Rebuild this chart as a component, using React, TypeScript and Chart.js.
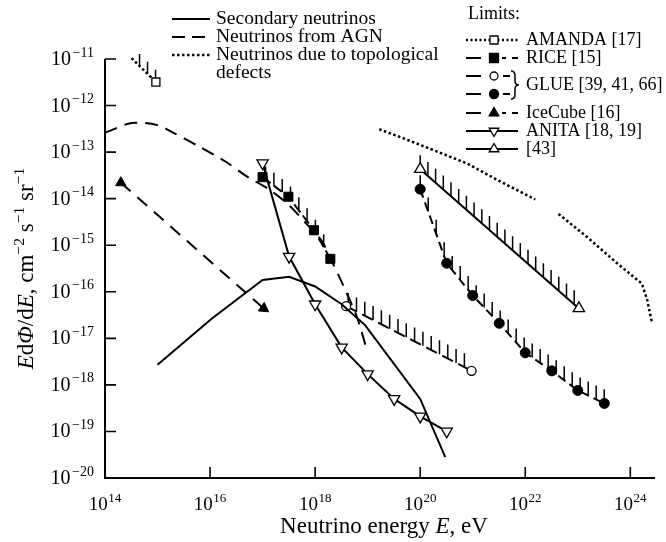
import React, { useEffect, useRef } from 'react';
import { Chart, registerables } from 'chart.js';
Chart.register(...registerables);

const FONT = "'Liberation Serif', 'Times New Roman', serif";

const xTickPowers = [14, 16, 18, 20, 22, 24];
const yTickPowers = [-11, -12, -13, -14, -15, -16, -17, -18, -19, -20];

const secondaryE = [1e15, 1.1e16, 1e17, 3.2e17, 1e18, 3.2e18, 9e18, 1e20, 3e20];
const secondaryF = [2.7e-18, 2.7e-17, 1.8e-16, 2.1e-16, 1.3e-16, 5.4e-17, 1.9e-17, 5e-19, 2.8e-20];

const agnE = [1e14, 3.2e14, 1e15, 2e15, 6.3e15, 2e16, 5e16, 1.3e17, 3.2e17, 7e17, 1.3e18, 2e18, 3.5e18, 6.3e18, 9.5e18];
const agnF = [2.6e-13, 4.2e-13, 3.8e-13, 2.6e-13, 1.3e-13, 6.2e-14, 3.0e-14, 1.6e-14, 7.2e-15, 2.8e-15, 1.3e-15, 5e-16, 1.3e-16, 2.8e-17, 6e-18];

const topoE = [1.66e19, 4.2e19, 2e20, 7.8e20, 3.2e21, 1.55e22, 2.6e22, 4.3e22, 1.5e23, 5.6e23, 1.66e24, 2.1e24, 2.6e24];
const topoF = [3.1e-13, 2.1e-13, 1.05e-13, 5.7e-14, 2.4e-14, 9.6e-15, null, 4.7e-15, 1.5e-15, 4.1e-16, 1.5e-16, 6.6e-17, 2.1e-17];

const amandaE = [3.2e14, 9.3e14];
const amandaF = [1.04e-11, 3.2e-12];

const riceE = [1e17, 3.1e17, 9.5e17, 1.95e18];
const riceF = [2.9e-14, 1.1e-14, 2.1e-15, 5.1e-16];

const glueOpenE = [3.9e18, 9.5e20];
const glueOpenF = [4.9e-17, 2e-18];

const glueFilledE = [1e20, 3.2e20, 1e21, 3.2e21, 1e22, 3.2e22, 1e23, 3.2e23];
const glueFilledF = [1.6e-14, 4.1e-16, 8.3e-17, 2.1e-17, 4.9e-18, 2e-18, 7.6e-19, 4e-19];

const icecubeE = [2e14, 1.05e17];
const icecubeF = [2.2e-14, 4.4e-17];

const anitaE = [1e17, 3.2e17, 1e18, 3.2e18, 1e19, 3.2e19, 1e20, 3.2e20];
const anitaF = [5.8e-14, 5.7e-16, 5.4e-17, 6.4e-18, 1.7e-18, 5e-19, 2.1e-19, 1e-19];

const ref43E = [1e20, 1.05e23];
const ref43F = [4.3e-14, 4.4e-17];

const modelLabels = ['Secondary neutrinos', 'Neutrinos from AGN', 'Neutrinos due to topological', 'defects'];
const limitLabels = ['AMANDA [17]', 'RICE [15]', 'GLUE [39, 41, 66]', 'IceCube [16]', 'ANITA [18, 19]', '[43]'];

function pts(xs: number[], ys: (number | null)[]) {
  return xs.map((x, i) => ({ x, y: ys[i] }));
}

const hatchSpec: Record<string, { spacing: number; len: number; offset: number }> = {
  amanda: { spacing: 8, len: 12, offset: 8 },
  rice: { spacing: 8.3, len: 13, offset: 3 },
  glueOpen: { spacing: 8.3, len: 14, offset: 2 },
  glueFilled: { spacing: 8, len: 14, offset: 0 },
  ref43: { spacing: 7.7, len: 14, offset: 0 },
};

function sup(ctx: CanvasRenderingContext2D, base: string, exp: string, x: number, y: number, align: 'center' | 'right', bs: number, es: number, gap: number) {
  ctx.font = `${bs}px ${FONT}`;
  const wb = ctx.measureText(base).width;
  ctx.font = `${es}px ${FONT}`;
  const we = ctx.measureText(exp).width;
  const total = wb + we + gap;
  const x0 = align === 'center' ? x - total / 2 : x - total;
  ctx.textAlign = 'left';
  ctx.textBaseline = 'alphabetic';
  ctx.font = `${bs}px ${FONT}`;
  ctx.fillText(base, x0, y);
  ctx.font = `${es}px ${FONT}`;
  ctx.fillText(exp, x0 + wb + gap, y - bs * 0.42);
}

type Seg = { t: string; it?: boolean; sp?: boolean };
function richText(ctx: CanvasRenderingContext2D, segs: Seg[], size: number, cx: number, y: number) {
  const font = (s: Seg) => `${s.it ? 'italic ' : ''}${s.sp ? size * 0.68 : size}px ${FONT}`;
  let total = 0;
  segs.forEach((s) => { ctx.font = font(s); total += ctx.measureText(s.t).width; });
  let x = cx - total / 2;
  ctx.textAlign = 'left';
  ctx.textBaseline = 'alphabetic';
  segs.forEach((s) => {
    ctx.font = font(s);
    ctx.fillText(s.t, x, s.sp ? y - size * 0.4 : y);
    x += ctx.measureText(s.t).width;
  });
}

function marker(ctx: CanvasRenderingContext2D, kind: string, x: number, y: number, r: number, filled: boolean) {
  ctx.save();
  ctx.beginPath();
  if (kind === 'rect') {
    ctx.rect(x - r, y - r, 2 * r, 2 * r);
  } else if (kind === 'circle') {
    ctx.arc(x, y, r, 0, Math.PI * 2);
  } else if (kind === 'tri') {
    ctx.moveTo(x, y - r);
    ctx.lineTo(x + r * 0.87, y + r * 0.5);
    ctx.lineTo(x - r * 0.87, y + r * 0.5);
    ctx.closePath();
  } else if (kind === 'triDown') {
    ctx.moveTo(x, y + r);
    ctx.lineTo(x + r * 0.87, y - r * 0.5);
    ctx.lineTo(x - r * 0.87, y - r * 0.5);
    ctx.closePath();
  }
  ctx.fillStyle = filled ? '#000' : '#fff';
  ctx.fill();
  ctx.lineWidth = 1.3;
  ctx.strokeStyle = '#000';
  ctx.stroke();
  ctx.restore();
}

const axesPlugin = {
  id: 'axesDraw',
  afterDraw(chart: any) {
    const ctx = chart.ctx as CanvasRenderingContext2D;
    const { left, right, top, bottom } = chart.chartArea;
    const xs = chart.scales.x;
    const ys = chart.scales.y;
    ctx.save();
    ctx.strokeStyle = '#000';
    ctx.fillStyle = '#000';
    ctx.lineWidth = 2;
    ctx.beginPath();
    ctx.moveTo(left, top);
    ctx.lineTo(left, bottom);
    ctx.lineTo(right, bottom);
    ctx.stroke();
    ctx.lineWidth = 1.6;
    ctx.beginPath();
    xTickPowers.forEach((p) => {
      if (p === 14) return;
      const px = xs.getPixelForValue(Math.pow(10, p));
      ctx.moveTo(px, bottom);
      ctx.lineTo(px, bottom - 11);
    });
    yTickPowers.forEach((p) => {
      if (p === -20) return;
      const py = ys.getPixelForValue(Math.pow(10, p));
      ctx.moveTo(left, py);
      ctx.lineTo(left + 11, py);
    });
    ctx.stroke();
    xTickPowers.forEach((p) => {
      const px = xs.getPixelForValue(Math.pow(10, p));
      sup(ctx, '10', String(p), px, bottom + 32, 'center', 19, 13, 0.5);
    });
    yTickPowers.forEach((p) => {
      const py = ys.getPixelForValue(Math.pow(10, p));
      sup(ctx, '10', '\u2212' + String(-p), left - 11, py + 6, 'right', 20, 14, 1.5);
    });
    richText(ctx, [{ t: 'Neutrino energy ' }, { t: 'E', it: true }, { t: ', eV' }], 23, (left + right) / 2 + 4, bottom + 55);
    ctx.save();
    ctx.translate(33, (top + bottom) / 2);
    ctx.rotate(-Math.PI / 2);
    richText(ctx, [
      { t: 'E', it: true }, { t: 'd' }, { t: '\u03A6', it: true }, { t: '/d' }, { t: 'E', it: true }, { t: ', cm' },
      { t: '\u22122', sp: true }, { t: ' s' }, { t: '\u22121', sp: true }, { t: ' sr' }, { t: '\u22121', sp: true },
    ], 23, 0, 0);
    ctx.restore();
    ctx.restore();
  },
};

const hatchPlugin = {
  id: 'hatch',
  beforeDatasetsDraw(chart: any) {
    const ctx = chart.ctx as CanvasRenderingContext2D;
    ctx.save();
    ctx.strokeStyle = '#000';
    ctx.lineWidth = 1.5;
    chart.data.datasets.forEach((ds: any, i: number) => {
      const spec = hatchSpec[ds.key];
      if (!spec) return;
      const meta = chart.getDatasetMeta(i);
      const p = meta.data.map((e: any) => ({ x: e.x, y: e.y }));
      ctx.beginPath();
      let x = p[0].x + spec.offset;
      const xEnd = p[p.length - 1].x;
      while (x <= xEnd + 0.5) {
        let k = 0;
        while (k < p.length - 2 && p[k + 1].x < x) k++;
        const a = p[k], b = p[k + 1];
        const t = b.x === a.x ? 0 : (x - a.x) / (b.x - a.x);
        const y = a.y + (b.y - a.y) * Math.max(0, Math.min(1, t));
        ctx.moveTo(x, y);
        ctx.lineTo(x, y - spec.len);
        x += spec.spacing;
      }
      ctx.stroke();
    });
    ctx.restore();
  },
};

const legendPlugin = {
  id: 'customLegend',
  afterDraw(chart: any) {
    const ctx = chart.ctx as CanvasRenderingContext2D;
    ctx.save();
    ctx.fillStyle = '#000';
    ctx.strokeStyle = '#000';
    ctx.textBaseline = 'middle';
    ctx.textAlign = 'left';
    // left legend
    ctx.font = `19.5px ${FONT}`;
    const lx0 = 172, lx1 = 210, ltx = 216;
    const lrows = [
      { y: 19, dash: [] as number[], w: 2 },
      { y: 37, dash: [13, 7], w: 2 },
      { y: 55, dash: [2.5, 2.5], w: 2.5 },
    ];
    lrows.forEach((r, i) => {
      ctx.beginPath();
      ctx.setLineDash(r.dash);
      ctx.lineWidth = r.w;
      ctx.moveTo(lx0, r.y);
      ctx.lineTo(lx1, r.y);
      ctx.stroke();
      ctx.setLineDash([]);
      ctx.fillText(modelLabels[i], ltx, r.y);
    });
    ctx.fillText(modelLabels[3], ltx, 73);

    // right legend
    ctx.font = `18px ${FONT}`;
    ctx.fillText('Limits:', 468, 14);
    const sx0 = 466, sx1 = 518, mx = 494, tx = 526;
    const seg = (y: number, a: number, b: number, w = 2) => {
      ctx.beginPath(); ctx.lineWidth = w; ctx.moveTo(a, y); ctx.lineTo(b, y); ctx.stroke();
    };
    // AMANDA
    let y = 40;
    ctx.setLineDash([2, 2.5]);
    seg(y, sx0, sx1, 2.5);
    ctx.setLineDash([]);
    marker(ctx, 'rect', mx, y, 4, false);
    ctx.fillText(limitLabels[0], tx, y);
    // RICE
    y = 58;
    seg(y, sx0, sx0 + 15); seg(y, mx + 8, mx + 12); seg(y, mx + 18, mx + 24);
    marker(ctx, 'rect', mx, y, 4.5, true);
    ctx.fillText(limitLabels[1], tx, y);
    // GLUE open / filled
    y = 76;
    seg(y, sx0, sx0 + 15); seg(y, mx + 9, mx + 16);
    marker(ctx, 'circle', mx, y, 4, false);
    y = 94;
    seg(y, sx0, sx0 + 15); seg(y, mx + 9, mx + 16);
    marker(ctx, 'circle', mx, y, 4.5, true);
    // brace
    ctx.beginPath();
    ctx.lineWidth = 1.5;
    const bx = mx + 17;
    ctx.moveTo(bx, 71);
    ctx.quadraticCurveTo(bx + 4, 71, bx + 4, 76);
    ctx.lineTo(bx + 4, 81);
    ctx.quadraticCurveTo(bx + 4, 85, bx + 8, 85);
    ctx.quadraticCurveTo(bx + 4, 85, bx + 4, 89);
    ctx.lineTo(bx + 4, 94);
    ctx.quadraticCurveTo(bx + 4, 99, bx, 99);
    ctx.stroke();
    ctx.fillText(limitLabels[2], tx, 85);
    // IceCube
    y = 113;
    seg(y, sx0, sx0 + 15); seg(y, mx + 8, mx + 12); seg(y, mx + 18, mx + 24);
    marker(ctx, 'tri', mx, y, 5.5, true);
    ctx.fillText(limitLabels[3], tx, y);
    // ANITA
    y = 131;
    seg(y, sx0, sx1, 1.8);
    marker(ctx, 'triDown', mx, y, 5.5, false);
    ctx.fillText(limitLabels[4], tx, y);
    // [43]
    y = 149;
    seg(y, sx0, sx1, 1.8);
    marker(ctx, 'tri', mx, y, 5.5, false);
    ctx.fillText(limitLabels[5], tx, y);
    ctx.restore();
  },
};

export default function App() {
  const ref = useRef<HTMLCanvasElement | null>(null);
  useEffect(() => {
    document.body.style.margin = '0';
    const base = { borderColor: '#000', borderWidth: 2, fill: false, clip: false as any, tension: 0, pointRadius: 0, pointHoverRadius: 0 };
    const chart = new Chart(ref.current as HTMLCanvasElement, {
      type: 'line',
      data: {
        datasets: [
          { ...base, key: 'secondary', label: modelLabels[0], data: pts(secondaryE, secondaryF) },
          { ...base, key: 'agn', label: modelLabels[1], data: pts(agnE, agnF), borderDash: [13, 8], tension: 0.3 },
          { ...base, key: 'topo', label: modelLabels[2], data: pts(topoE, topoF), borderDash: [2.5, 2.5], borderWidth: 2.5, spanGaps: false },
          { ...base, key: 'amanda', label: limitLabels[0], data: pts(amandaE, amandaF), borderDash: [2.5, 2.5], borderWidth: 2.5,
            pointRadius: [0, 5.7], pointStyle: 'rect', pointBackgroundColor: '#fff', pointBorderColor: '#000', pointBorderWidth: 1.3 },
          { ...base, key: 'rice', label: limitLabels[1], data: pts(riceE, riceF), borderDash: [10, 4],
            pointRadius: 6.4, pointStyle: 'rect', pointBackgroundColor: '#000', pointBorderColor: '#000', pointBorderWidth: 1 },
          { ...base, key: 'glueOpen', label: limitLabels[2], data: pts(glueOpenE, glueOpenF), borderDash: [12, 6],
            pointRadius: 4.5, pointStyle: 'circle', pointBackgroundColor: '#fff', pointBorderColor: '#000', pointBorderWidth: 1.3 },
          { ...base, key: 'glueFilled', label: limitLabels[2], data: pts(glueFilledE, glueFilledF), borderDash: [9, 5],
            pointRadius: 5, pointStyle: 'circle', pointBackgroundColor: '#000', pointBorderColor: '#000', pointBorderWidth: 1 },
          { ...base, key: 'icecube', label: limitLabels[3], data: pts(icecubeE, icecubeF), borderDash: [13, 9],
            pointRadius: 6, pointStyle: 'triangle', pointRotation: [0, 125], pointBackgroundColor: '#000', pointBorderColor: '#000', pointBorderWidth: 1 },
          { ...base, key: 'anita', label: limitLabels[4], data: pts(anitaE, anitaF),
            pointRadius: 6.5, pointStyle: 'triangle', pointRotation: 180, pointBackgroundColor: '#fff', pointBorderColor: '#000', pointBorderWidth: 1.3 },
          { ...base, key: 'ref43', label: limitLabels[5], data: pts(ref43E, ref43F),
            pointRadius: 6.5, pointStyle: 'triangle', pointBackgroundColor: '#fff', pointBorderColor: '#000', pointBorderWidth: 1.3 },
        ] as any,
      },
      options: {
        animation: false,
        responsive: false,
        events: [],
        layout: { padding: { left: 105, top: 59, right: 11, bottom: 64 } },
        scales: {
          x: { type: 'logarithmic', min: 1e14, max: 2.95e24, display: false },
          y: { type: 'logarithmic', min: 1e-20, max: 1e-11, display: false },
        },
        plugins: { legend: { display: false }, tooltip: { enabled: false } },
      },
      plugins: [hatchPlugin, axesPlugin, legendPlugin],
    });
    return () => chart.destroy();
  }, []);
  return (
    <div style={{ position: 'absolute', left: 0, top: 0, width: 666, height: 542, background: '#fff' }}>
      <canvas ref={ref} width={666} height={542} style={{ display: 'block', width: 666, height: 542 }} />
    </div>
  );
}
